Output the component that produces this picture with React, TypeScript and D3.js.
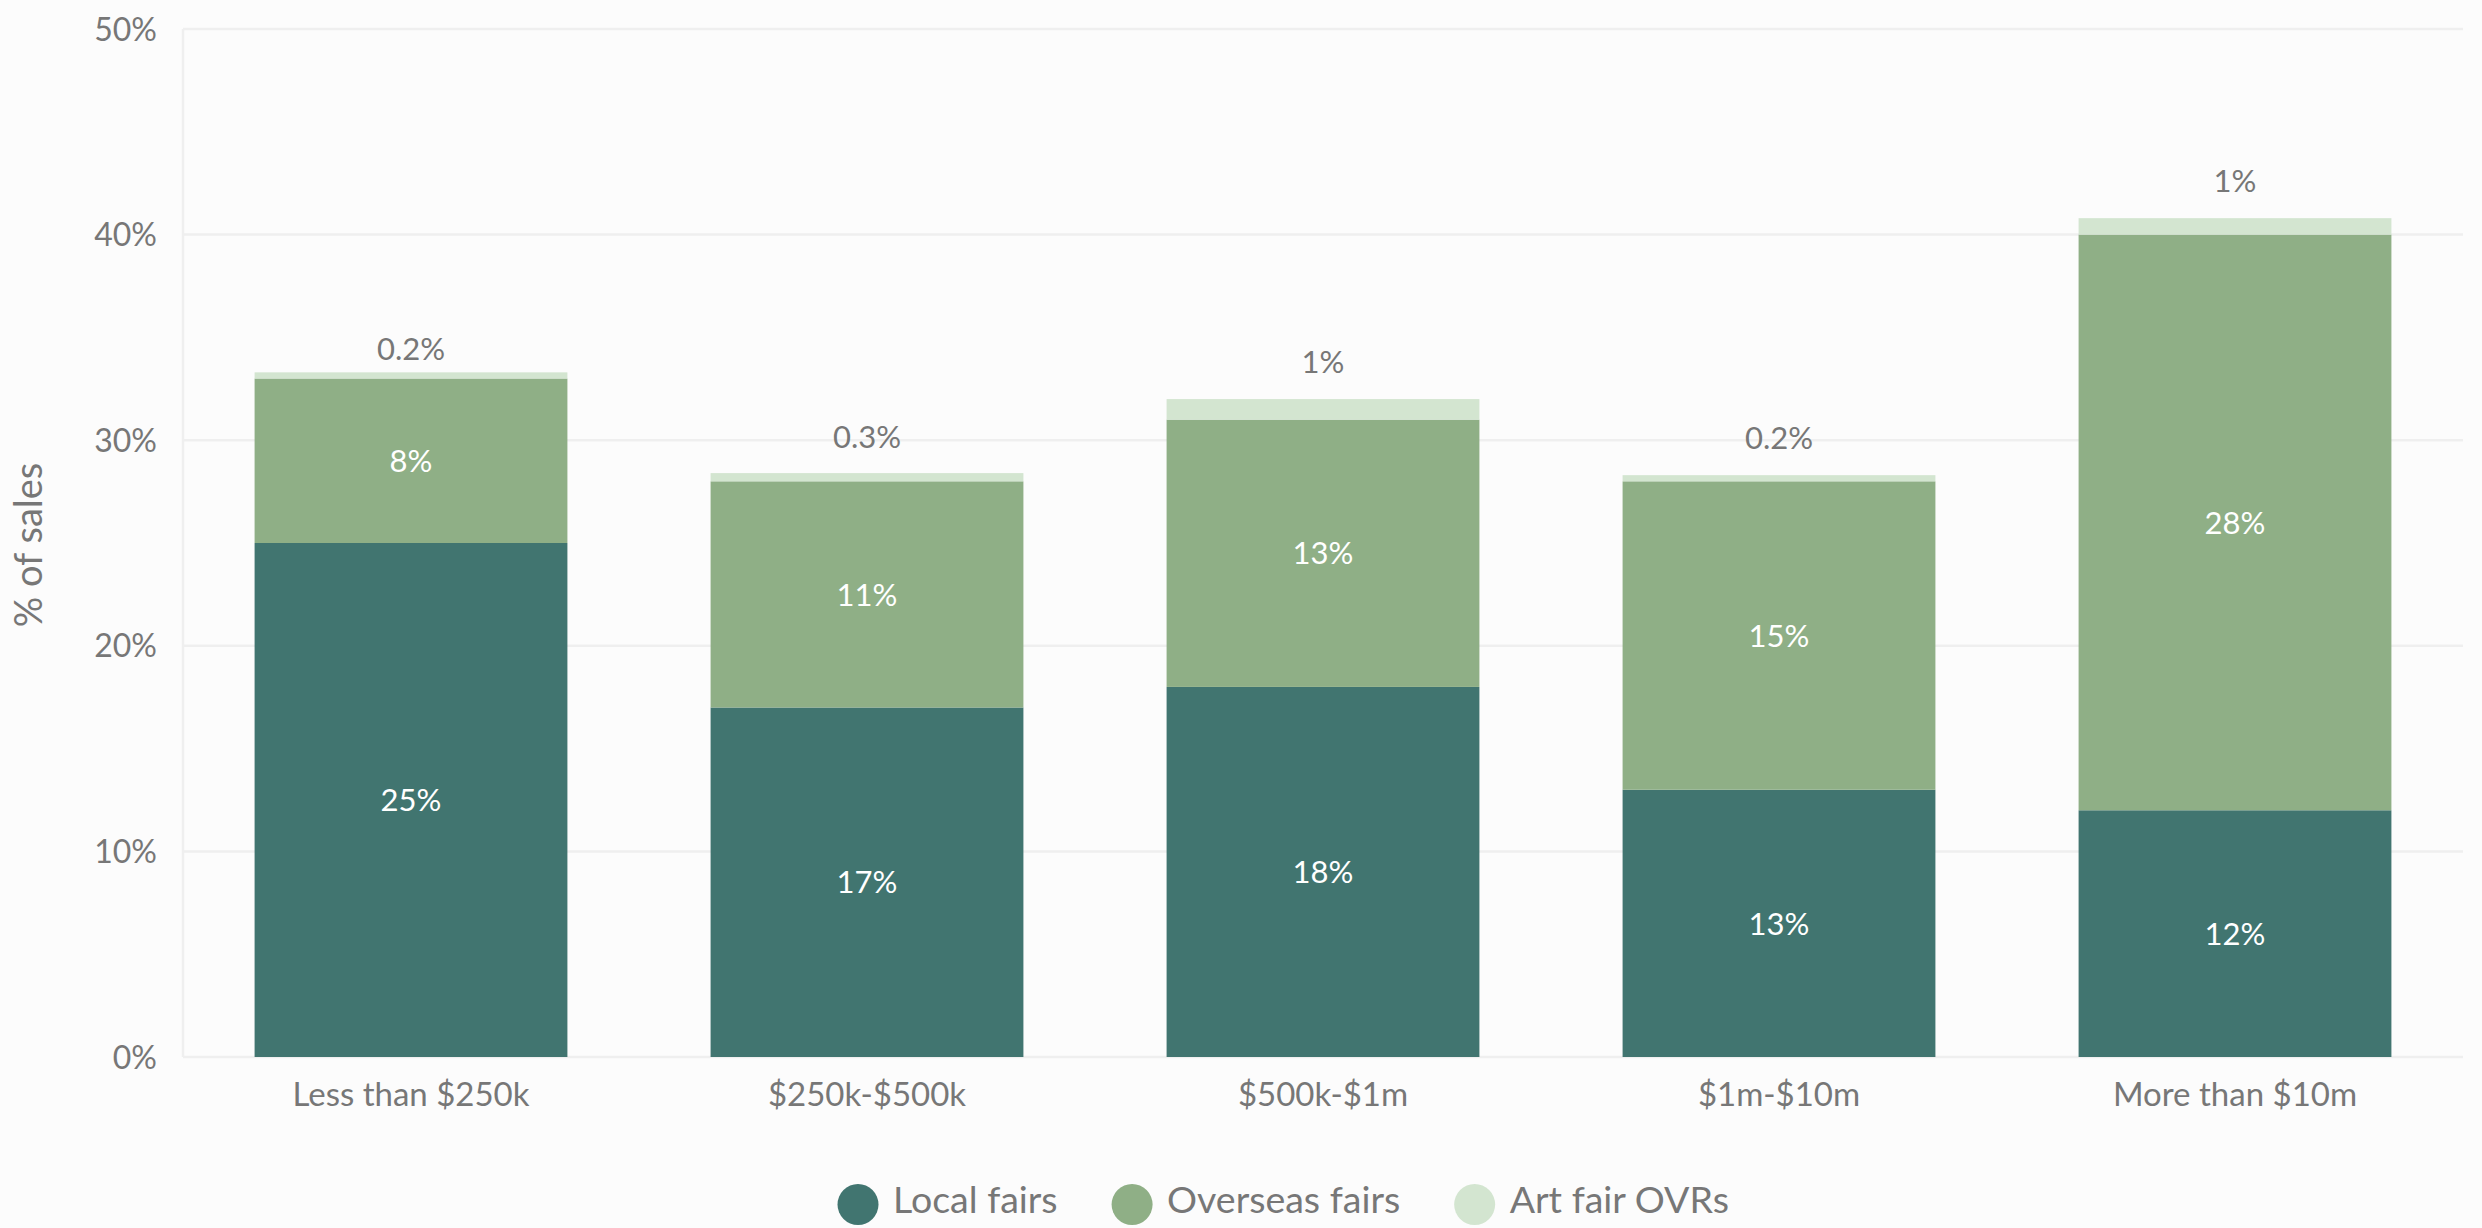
import React, { useEffect, useRef } from "react";
import * as d3 from "d3";

const categories = ["Less than $250k", "$250k-$500k", "$500k-$1m", "$1m-$10m", "More than $10m"];
const localFairs = [25, 17, 18, 13, 12];
const overseasFairs = [8, 11, 13, 15, 28];
const artFairOVRs = [0.3, 0.4, 1.0, 0.3, 0.8];
const localLabels = ["25%", "17%", "18%", "13%", "12%"];
const overseasLabels = ["8%", "11%", "13%", "15%", "28%"];
const ovrLabels = ["0.2%", "0.3%", "1%", "0.2%", "1%"];
const seriesNames = ["Local fairs", "Overseas fairs", "Art fair OVRs"];
const yTicks = [0, 10, 20, 30, 40, 50];
const yTickLabels = ["0%", "10%", "20%", "30%", "40%", "50%"];

const W = 2482;
const H = 1228;
const COLORS = ["#417570", "#8faf86", "#d3e5d0"];
const TEXT = "#777777";
const GRID = "#efefef";
const FONT = "Lato, 'Open Sans', sans-serif";
const TOP_LIFT = [12, 25, 26, 26, 26];

function draw(el: SVGSVGElement) {
  const svg = d3.select(el);
  svg.selectAll("*").remove();

  const x = d3.scaleBand<string>().domain(categories).range([183, 2463]).paddingInner(0.314).paddingOuter(0.157);
  const y = d3.scaleLinear().domain([0, 50]).range([1057, 29]);

  svg.append("rect").attr("width", W).attr("height", H).attr("fill", "#fcfcfc");

  const g = svg.append("g");
  g.selectAll("line.grid")
    .data(yTicks)
    .join("line")
    .attr("x1", 183)
    .attr("x2", 2463)
    .attr("y1", (d) => y(d))
    .attr("y2", (d) => y(d))
    .attr("stroke", GRID)
    .attr("stroke-width", 2.5);
  g.append("line")
    .attr("x1", 183)
    .attr("x2", 183)
    .attr("y1", y(50))
    .attr("y2", y(0))
    .attr("stroke", GRID)
    .attr("stroke-width", 2.5);

  g.selectAll("text.yt")
    .data(yTicks)
    .join("text")
    .attr("x", 157)
    .attr("y", (d) => y(d))
    .attr("dy", "0.36em")
    .attr("text-anchor", "end")
    .attr("font-family", FONT)
    .attr("font-size", 32)
    .attr("fill", TEXT)
    .text((d, i) => yTickLabels[i]);

  svg
    .append("text")
    .attr("transform", "translate(42,545) rotate(-90)")
    .attr("text-anchor", "middle")
    .attr("font-family", FONT)
    .attr("font-size", 38)
    .attr("fill", TEXT)
    .text("% of sales");

  const rows = categories.map((c, i) => ({
    cat: c,
    local: localFairs[i],
    overseas: overseasFairs[i],
    ovr: artFairOVRs[i],
  }));
  const stack = d3.stack<any>().keys(["local", "overseas", "ovr"]);
  const series = stack(rows);
  const labelSets = [localLabels, overseasLabels, ovrLabels];

  series.forEach((s, si) => {
    const sg = svg.append("g");
    sg.selectAll("rect")
      .data(s)
      .join("rect")
      .attr("x", (d: any) => x(d.data.cat)!)
      .attr("width", x.bandwidth())
      .attr("y", (d: any) => y(d[1]))
      .attr("height", (d: any) => y(d[0]) - y(d[1]))
      .attr("fill", COLORS[si]);
    if (si < 2) {
      sg.selectAll("text")
        .data(s)
        .join("text")
        .attr("x", (d: any) => x(d.data.cat)! + x.bandwidth() / 2)
        .attr("y", (d: any) => y((d[0] + d[1]) / 2))
        .attr("dy", "0.36em")
        .attr("text-anchor", "middle")
        .attr("font-family", FONT)
        .attr("font-size", 31)
        .attr("fill", "#ffffff")
        .text((d: any, i: number) => labelSets[si][i]);
    } else {
      sg.selectAll("text")
        .data(s)
        .join("text")
        .attr("x", (d: any) => x(d.data.cat)! + x.bandwidth() / 2)
        .attr("y", (d: any, i: number) => y(d[1]) - TOP_LIFT[i])
        .attr("text-anchor", "middle")
        .attr("font-family", FONT)
        .attr("font-size", 31)
        .attr("fill", TEXT)
        .text((d: any, i: number) => labelSets[si][i]);
    }
  });

  svg
    .append("g")
    .selectAll("text")
    .data(categories)
    .join("text")
    .attr("x", (d) => x(d)! + x.bandwidth() / 2)
    .attr("y", 1106)
    .attr("text-anchor", "middle")
    .attr("font-family", FONT)
    .attr("font-size", 33)
    .attr("fill", TEXT)
    .text((d) => d);

  const lg = svg.append("g");
  let cx = 858;
  seriesNames.forEach((name, i) => {
    lg.append("circle").attr("cx", cx).attr("cy", 1204.5).attr("r", 20.5).attr("fill", COLORS[i]);
    const t = lg
      .append("text")
      .attr("x", cx + 35)
      .attr("y", 1213)
      .attr("font-family", FONT)
      .attr("font-size", 37.5)
      .attr("fill", TEXT)
      .text(name);
    const w = (t.node() as SVGTextElement).getComputedTextLength();
    cx = cx + 35 + w + 54 + 20.5;
  });
}

export default function App() {
  const ref = useRef<SVGSVGElement>(null);

  useEffect(() => {
    if (!ref.current) return;
    draw(ref.current);
    const fonts = (document as any).fonts;
    if (fonts && fonts.ready) {
      fonts.ready.then(() => {
        if (ref.current) draw(ref.current);
      });
    }
  }, []);

  return (
    <div style={{ position: "fixed", left: 0, top: 0, width: W, height: H }}>
      <svg ref={ref} width={W} height={H} style={{ display: "block" }} />
    </div>
  );
}
